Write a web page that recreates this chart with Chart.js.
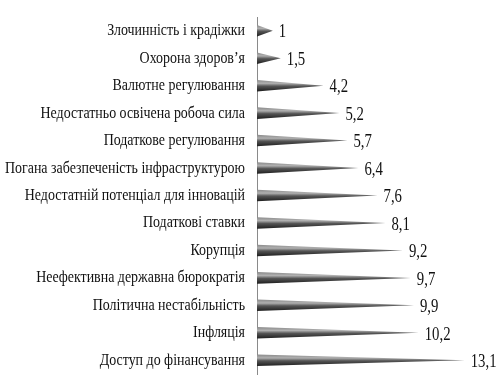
<!DOCTYPE html>
<html>
<head>
<meta charset="utf-8">
<script src="https://cdn.jsdelivr.net/npm/chart.js@4.4.0/dist/chart.umd.min.js"></script>
<style>
    html, body { margin: 0; padding: 0; background: #fff; }
    #wrap { width: 497px; height: 390px; }
</style>
</head>
<body>
<div id="wrap"><canvas id="chart"></canvas></div>
<script>
const categories = [
    'Злочинність і крадіжки',
    'Охорона здоров\u2019я',
    'Валютне регулювання',
    'Недостатньо освічена робоча сила',
    'Податкове регулювання',
    'Погана забезпеченість інфраструктурою',
    'Недостатній потенціал для інновацій',
    'Податкові ставки',
    'Корупція',
    'Неефективна державна бюрократія',
    'Політична нестабільність',
    'Інфляція',
    'Доступ до фінансування'
];
const values = [1, 1.5, 4.2, 5.2, 5.7, 6.4, 7.6, 8.1, 9.2, 9.7, 9.9, 10.2, 13.1];
const valueLabels = ['1', '1,5', '4,2', '5,2', '5,7', '6,4', '7,6', '8,1', '9,2', '9,7', '9,9', '10,2', '13,1'];

const serif = '"Liberation Serif", "Times New Roman", serif';
const squeeze = 0.82; // текст в оригинале сжат по горизонтали

function drawText(ctx, text, x, y, align) {
    ctx.save();
    ctx.translate(x, y);
    ctx.scale(squeeze, 1);
    ctx.textAlign = align;
    ctx.textBaseline = 'middle';
    ctx.fillText(text, 0, 0);
    ctx.restore();
}

// конусы и подписи рисуем сами по координатам столбцов
const conePlugin = {
    id: 'cones',
    afterDatasetsDraw(chart) {
        const ctx = chart.ctx;
        const meta = chart.getDatasetMeta(0);
        const yScale = chart.scales.y;
        meta.data.forEach((bar, i) => {
            const p = bar.getProps(['x', 'y', 'base', 'height'], true);
            const h = p.height;
            const top = p.y - h / 2;
            const bottom = p.y + h / 2;
            const g = ctx.createLinearGradient(0, top, 0, bottom);
            g.addColorStop(0, '#8a8a8a');
            g.addColorStop(0.3, '#b0b0b0');
            g.addColorStop(0.55, '#555');
            g.addColorStop(1, '#1e1e1e');
            ctx.save();
            ctx.beginPath();
            ctx.moveTo(p.base, top);
            ctx.lineTo(p.x, p.y);
            ctx.lineTo(p.base, bottom);
            ctx.closePath();
            ctx.fillStyle = g;
            ctx.fill();
            ctx.restore();

            ctx.save();
            ctx.fillStyle = '#111';
            ctx.font = '18px ' + serif;
            drawText(ctx, valueLabels[i], p.x + 6, p.y + 2, 'left');
            ctx.font = '17px ' + serif;
            drawText(ctx, categories[i], yScale.right - 12, yScale.getPixelForTick(i), 'right');
            ctx.restore();
        });
    }
};

new Chart(document.getElementById('chart').getContext('2d'), {
    type: 'bar',
    data: {
        labels: categories,
        datasets: [{
            data: values,
            backgroundColor: 'rgba(0,0,0,0)',
            borderWidth: 0,
            barPercentage: 0.42,
            categoryPercentage: 1
        }]
    },
    options: {
        indexAxis: 'y',
        responsive: true,
        maintainAspectRatio: false,
        animation: false,
        layout: { padding: { left: 0, right: 18, top: 17, bottom: 16 } },
        scales: {
            x: {
                display: false,
                min: 0,
                max: 14
            },
            y: {
                grid: { display: false, drawTicks: false },
                border: { display: true, color: '#8a8a8a', width: 1 },
                ticks: { display: false },
                afterFit(scale) { scale.width = 257; }
            }
        },
        plugins: {
            legend: { display: false },
            tooltip: { enabled: false }
        }
    },
    plugins: [conePlugin]
});
</script>
</body>
</html>
